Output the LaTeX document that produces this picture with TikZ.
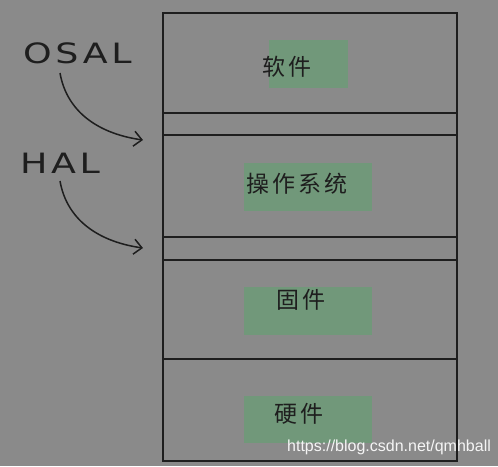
\documentclass[tikz,border=0pt]{standalone}
\usepackage{fontspec}
\usepackage{graphicx}
\usepackage{tikz}
\usetikzlibrary{arrows.meta}
\newfontfamily\cjk[LetterSpace=14]{Noto Sans CJK SC}
\newfontfamily\hand[LetterSpace=10]{DejaVu Sans}
\newcommand{\wide}[2]{\scalebox{#1}[1]{#2}}
\definecolor{bggray}{HTML}{8A8A8A}
\definecolor{layergreen}{HTML}{71987A}
\definecolor{inkline}{HTML}{1E1E1E}
\tikzset{
  layerline/.style={draw=inkline, line width=1.8pt},
  greenbox/.style={fill=layergreen},
  layertext/.style={font=\cjk\fontsize{23}{23}\selectfont, text=inkline, inner sep=0pt, anchor=west},
  tag/.style={font=\hand\fontsize{28}{28}\selectfont, text=inkline, inner sep=0pt, anchor=west},
  hook/.style={draw=inkline, line width=1.5pt, -{Straight Barb[length=8pt,width=15pt]}}
}
\begin{document}
\begin{tikzpicture}[x=1pt,y=-1pt]
        \fill[bggray] (0,0) rectangle (498,466);
        \useasboundingbox (0,0) rectangle (498,466);
        \fill[greenbox] (269,40) rectangle (348,88);
        \fill[greenbox] (244,163) rectangle (372,211);
        \fill[greenbox] (244,287) rectangle (372,335);
        \fill[greenbox] (244,396) rectangle (372,443);
        \draw[layerline] (163,13) rectangle (457,461);
        \draw[layerline] (163,113) -- (457,113);
        \draw[layerline] (163,135) -- (457,135);
        \draw[layerline] (163,237) -- (457,237);
        \draw[layerline] (163,260) -- (457,260);
        \draw[layerline] (163,359) -- (457,359);
        \node[layertext] (soft) at (262,67) {软件};
        \node[layertext] (os) at (246,184) {操作系统};
        \node[layertext] (firm) at (276,300) {固件};
        \node[layertext] (hard) at (274,414) {硬件};
        \node[tag] (osal) at (23,53) {\wide{1.3}{OSAL}};
        \node[tag] (hal) at (20,163) {\wide{1.3}{HAL}};
        \coordinate (osalend) at (143,140);
        \coordinate (halend) at (143,248);
        \draw[hook] (60,73) to[out=-80,in=172] (osalend);
        \draw[hook] (60,181) to[out=-80,in=172] (halend);
        \node[anchor=west, text=white!92!gray, font=\fontspec{Liberation Sans}\fontsize{16}{16}\selectfont, inner sep=0pt] (mark) at (287,447) {https://blog.csdn.net/qmhball};
    \end{tikzpicture}
\end{document}
